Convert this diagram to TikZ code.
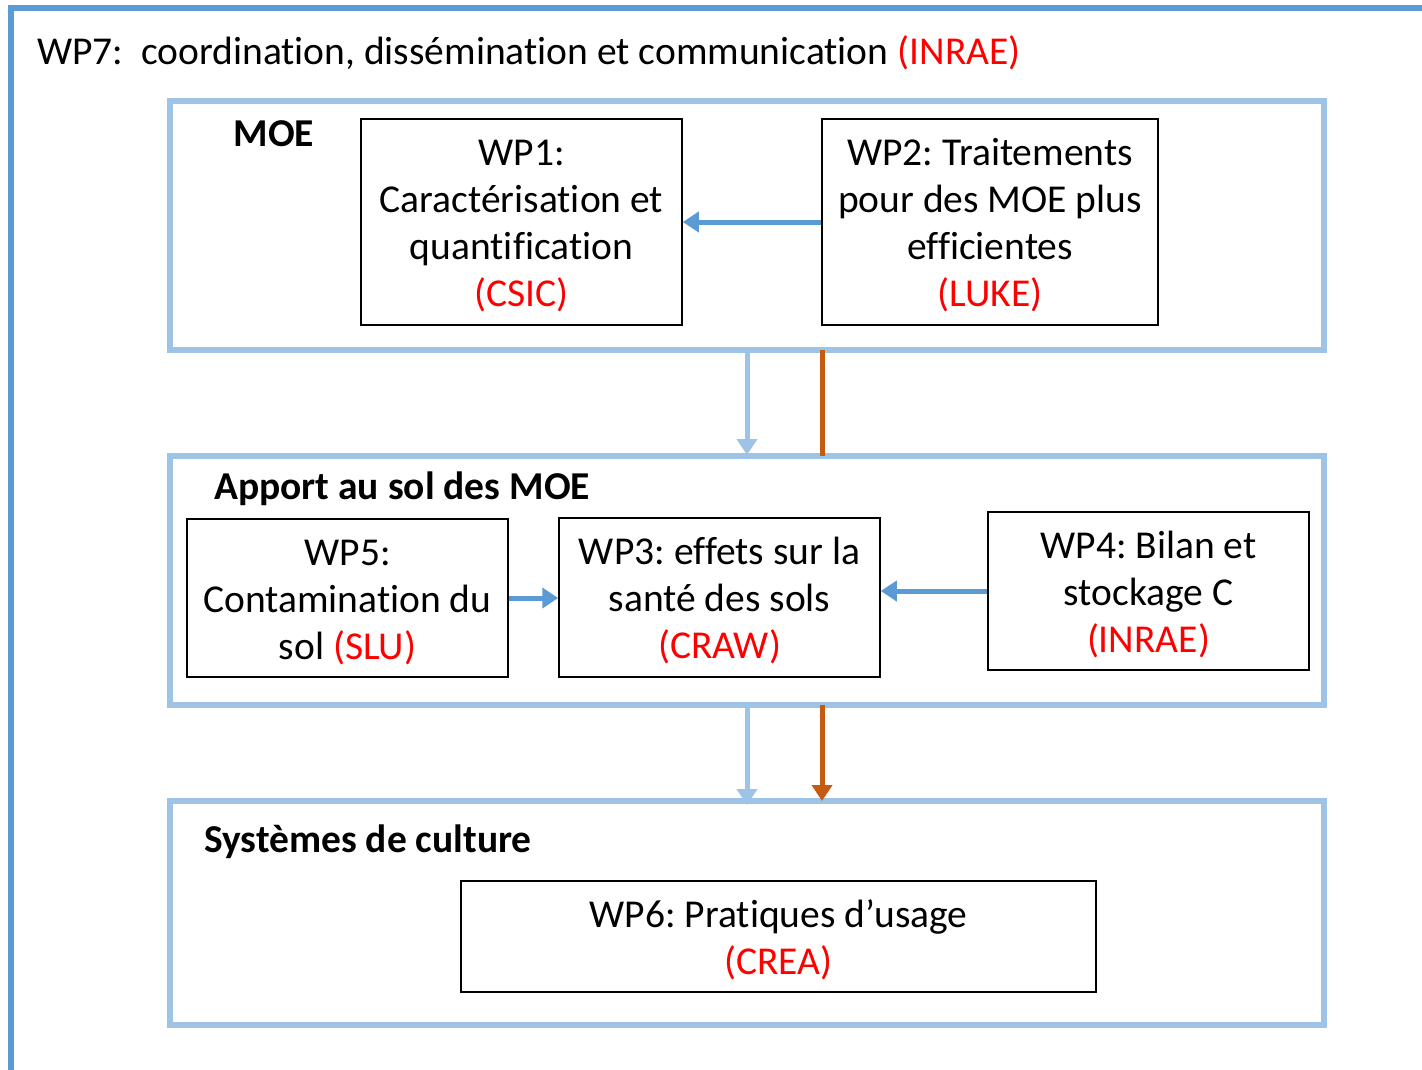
\documentclass[tikz,border=0pt]{standalone}
\usepackage{fontspec}
\setmainfont[Ligatures=NoCommon]{Carlito}
\usetikzlibrary{arrows.meta}
\definecolor{outerblue}{HTML}{5B9BD5}
\definecolor{lightblue}{HTML}{9DC3E6}
\definecolor{orng}{HTML}{C55A11}
\definecolor{red}{HTML}{FF0000}
\frenchspacing
\tikzset{
  container/.style={draw=lightblue, line width=6pt},
  wpbox/.style={draw=black, line width=1.5pt, inner sep=0pt,
    font=\fontsize{39.5}{47}\selectfont},
  title/.style={font=\bfseries\fontsize{39.5}{44}\selectfont, inner sep=0pt},
  harrow/.style={draw=outerblue, line width=5pt, -{Triangle[length=16pt,width=20pt]}},
  varrow/.style={draw=lightblue, line width=5pt, -{Triangle[length=16pt,width=20pt]}},
  oarrow/.style={draw=orng, line width=5pt},
}
\newcommand{\rd}[1]{\textcolor{red}{#1}}
\newcommand{\wpt}[1]{\raisebox{-5pt}[\height][\depth]{\begin{tabular}{@{}c@{}}#1\end{tabular}}}
\begin{document}
\begin{tikzpicture}[x=1pt,y=-1pt]
\useasboundingbox (0,0) rectangle (1422,1070);
% outer frame
\draw[outerblue, line width=6pt] (11,1090) -- (11,8) -- (1440,8);
\node[anchor=west, inner sep=0pt, font=\fontsize{39.5}{44}\selectfont] (t7) at (37,53)
  {WP7:~~coordination, dissémination et communication \rd{(INRAE)}};
% containers
\draw[container] (170,101) rectangle (1324,350);
\draw[container] (170,456) rectangle (1324,705);
\draw[container] (170,801) rectangle (1324,1025);
% container anchors
\coordinate (moeB) at (747,350);
\coordinate (appT) at (747,455);
\coordinate (moeBo) at (822,350);
\coordinate (appTo) at (822,456);
\coordinate (appB) at (747,705);
\coordinate (sysT) at (747,805);
\coordinate (appBo) at (822,705);
\coordinate (sysTo) at (822,801);
% titles
\node[title] (moe) at (274,134) {MOE};
\node[title, anchor=west] (app) at (214,489) {Apport au sol des MOE};
\node[title, anchor=west] (sys) at (204,842) {Systèmes de culture};
% boxes
\node[wpbox, minimum width=321pt, minimum height=206pt] (wp1) at (521.5,222)
  {\wpt{WP1:\\Caractérisation et\\quantification\\\rd{(CSIC)}}};
\node[wpbox, minimum width=336pt, minimum height=206pt] (wp2) at (990,222)
  {\wpt{WP2: Traitements\\pour des MOE plus\\efficientes\\\rd{(LUKE)}}};
\node[wpbox, minimum width=321pt, minimum height=158pt] (wp5) at (347.5,598)
  {\wpt{WP5:\\Contamination du\\sol \rd{(SLU)}}};
\node[wpbox, minimum width=321pt, minimum height=159pt] (wp3) at (719.5,597.5)
  {\wpt{WP3: effets sur la\\santé des sols\\\rd{(CRAW)}}};
\node[wpbox, minimum width=321pt, minimum height=158pt] (wp4) at (1148.5,591)
  {\wpt{WP4: Bilan et\\stockage C\\\rd{(INRAE)}}};
\node[wpbox, minimum width=635pt, minimum height=111pt] (wp6) at (778.5,936.5)
  {\wpt{WP6: Pratiques d’usage\\\rd{(CREA)}}};
% arrows
\draw[harrow] (wp2.west |- 0,222) -- (wp1.east |- 0,222);
\draw[harrow] (wp5.east |- 0,598) -- (wp3.west |- 0,598);
\draw[harrow] (wp4.west |- 0,591) -- (wp3.east |- 0,591);
\draw[varrow] (moeB) -- (appT);
\draw[oarrow] (moeBo) -- (appTo);
\draw[varrow] (appB) -- (sysT);
\draw[oarrow, -{Triangle[length=16pt,width=20pt]}] (appBo) -- (sysTo);
\end{tikzpicture}
\end{document}
